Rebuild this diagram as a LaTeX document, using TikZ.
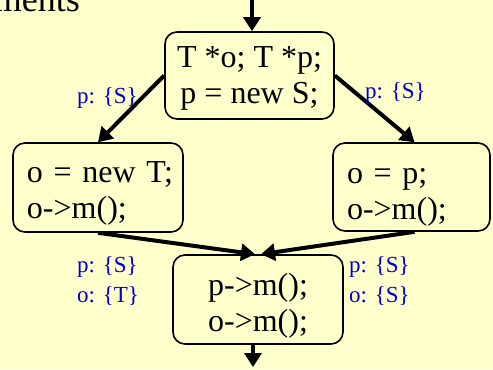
\documentclass[tikz,border=0pt]{standalone}
\usepackage{fontspec}
\setmainfont{Liberation Serif}
\usetikzlibrary{arrows.meta}
\definecolor{bg}{HTML}{FFFFCC}
\definecolor{lblblue}{HTML}{0000CC}
\begin{document}
\begin{tikzpicture}[x=1bp,y=-1bp,
  box/.style={draw=black, line width=1.6bp, rounded corners=12bp, fill=bg,
    inner sep=0pt, font=\fontsize{32bp}{36bp}\selectfont},
  lbox/.style={box, inner xsep=0pt, align=left},
  flow/.style={line width=4bp, -{Triangle[length=14bp,width=17bp]}},
  lbl/.style={text=lblblue, font=\fontsize{23bp}{27bp}\selectfont,
    inner sep=0pt, anchor=base west}]
\fill[bg] (0,0) rectangle (493,369);
\useasboundingbox (0,0) rectangle (493,369);

\node[font=\fontsize{36bp}{40bp}\selectfont, anchor=base east, inner sep=0pt] (title) at (80,11) {ments};

\node[box, minimum width=169bp, minimum height=87bp, align=center] (top) at (249.5,75.5)
  {\rule{0pt}{26bp}T *o; T *p;\\p = new S;};
\node[lbox, text width=170bp, minimum height=89bp] (left) at (98,187.5)
  {\hspace*{14bp}\rule{0pt}{32bp}o = new T;\\\hspace*{14bp}o->m();};
\node[lbox, text width=157bp, minimum height=88bp] (right) at (411.5,187)
  {\hspace*{14bp}\rule{0pt}{35bp}o = p;\\\hspace*{14bp}o->m();};
\node[box, minimum width=170bp, minimum height=89bp, align=center] (bottom) at (258,299.5)
  {\rule{0pt}{34bp}p->m();\\o->m();};

\coordinate (intop) at (252,0);
\coordinate (out) at (253,367);

\draw[flow] (intop) -- (intop |- top.north);
\draw[flow] (top.west) -- (left.north);
\draw[flow] (top.east) -- ([xshift=3bp]right.north);
\draw[flow] (left.south) -- ([xshift=-3bp]bottom.north);
\draw[flow] ([xshift=3bp]right.south) -- ([xshift=3bp]bottom.north);
\draw[flow] (bottom.south -| out) -- (out);

\node[lbl] (l1) at (77,103) {p: \{S\}};
\node[lbl] (l2) at (365,98) {p: \{S\}};
\node[lbl] (l3) at (77,272) {p: \{S\}};
\node[lbl] (l4) at (77,302) {o: \{T\}};
\node[lbl] (l5) at (349,272) {p: \{S\}};
\node[lbl] (l6) at (349,302) {o: \{S\}};
\end{tikzpicture}
\end{document}
